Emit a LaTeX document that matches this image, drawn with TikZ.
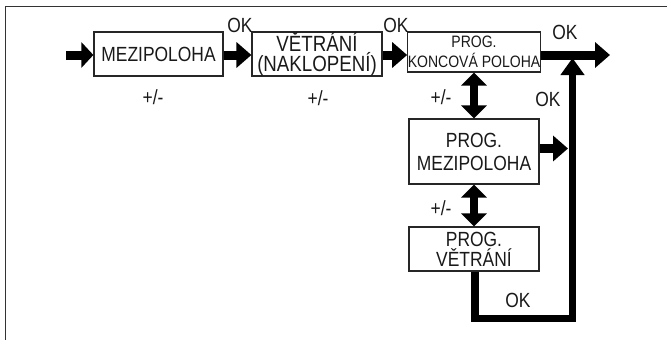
\documentclass[tikz,border=0pt]{standalone}
\usepackage{fontspec}
\setmainfont{Liberation Sans}[FakeStretch=0.85]
\usetikzlibrary{arrows.meta}
\tikzset{
  box/.style={draw=black!85, line width=1.2pt, inner sep=0pt, minimum width=130pt, align=center, text=black!90},
  fbig/.style={font=\fontsize{20.5}{21}\selectfont},
  lbl/.style={inner sep=0pt, text=black!90, font=\fontsize{20.5}{21}\selectfont},
  fat/.style={line width=9pt, -{Triangle[length=15pt,width=25pt]}},
  dbl/.style={line width=8pt, {Triangle[length=13pt,width=25pt]}-{Triangle[length=13pt,width=25pt]}},
  loopline/.style={line width=7.5pt, line join=miter, -{Triangle[length=17pt,width=23pt]}},
  frame/.style={draw=black!80, line width=1.8pt}
}
\begin{document}
\begin{tikzpicture}[x=1pt,y=-1pt]
\useasboundingbox (0,0) rectangle (667,340);
% frame
\draw[frame] (5.5,340) -- (5.5,6.5) -- (667,6.5);
% boxes
\node[box, fbig, minimum width=129pt, minimum height=44pt] (b1) at (158.5,54) {MEZIPOLOHA};
\node[box, minimum height=44pt, font=\fontsize{22}{17}\selectfont] (b2) at (317,54) {VĚTRÁNÍ\\(NAKLOPENÍ)};
\node[box, minimum height=40pt, font=\fontsize{16.5}{20}\selectfont] (b3) at (474,52) {PROG.\\KONCOVÁ POLOHA};
\node[box, minimum height=65pt, font=\fontsize{20.5}{23}\selectfont] (b4) at (474,151.5) {PROG.\\MEZIPOLOHA};
\node[box, minimum height=44pt, font=\fontsize{20.5}{20}\selectfont] (b5) at (474,249) {PROG.\\VĚTRÁNÍ};
% coordinates
\coordinate (in) at (66,55);
\coordinate (out) at (610,55);
\coordinate (c1) at (475,318.5);
\coordinate (c2) at (572.5,318.5);
\coordinate (c3) at (572.5,58);
% arrows
\draw[line width=9pt, -{Triangle[length=12pt,width=25pt]}] (in) -- (in -| b1.west);
\draw[fat] (b1.east |- in) -- (b2.west |- in);
\draw[fat] (b2.east |- in) -- (b3.west |- in);
\draw[fat] (b3.east |- in) -- (out);
\draw[dbl] (b3.south) -- (b4.north);
\draw[dbl] (b4.south) -- (b5.north);
\draw[fat] (b4.east |- 0,148.5) -- (568,148.5);
\draw[loopline] (b5.south -| c1) -- (c1) -- (c2) -- (c3);
% labels
\node[lbl] (ok1) at (240,25) {OK};
\node[lbl] (ok2) at (396,25) {OK};
\node[lbl] (ok3) at (565,32) {OK};
\node[lbl] (ok4) at (548,99) {OK};
\node[lbl] (ok5) at (518,300) {OK};
\node[lbl] (pm1) at (153,97) {+/-};
\node[lbl] (pm2) at (318,98) {+/-};
\node[lbl] (pm3) at (441,97) {+/-};
\node[lbl] (pm4) at (441,208) {+/-};
\end{tikzpicture}
\end{document}
